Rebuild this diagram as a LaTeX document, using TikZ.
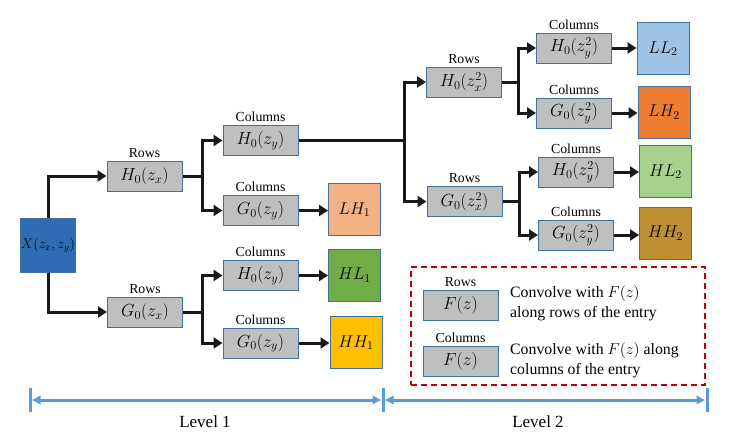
\RequirePackage{fix-cm}
\documentclass[tikz,border=0pt]{standalone}
\usepackage{fontspec}
\setmainfont{Liberation Serif}
\usetikzlibrary{arrows.meta}
\definecolor{boxgray}{HTML}{BFBFBF}
\definecolor{boxline}{HTML}{41719C}
\definecolor{xblue}{HTML}{2E6DB4}
\definecolor{lhone}{HTML}{F4B183}
\definecolor{hlone}{HTML}{70AD47}
\definecolor{hhone}{HTML}{FFC000}
\definecolor{lltwo}{HTML}{9DC3E6}
\definecolor{lhtwo}{HTML}{ED7D31}
\definecolor{hltwo}{HTML}{A9D18E}
\definecolor{hhtwo}{HTML}{BF9030}
\definecolor{legred}{HTML}{C00000}
\definecolor{levblue}{HTML}{5B9BD5}
\tikzset{
  gbox/.style={draw=boxline, fill=boxgray, line width=1pt, minimum width=75pt, minimum height=30pt, inner sep=0pt, font=\fontsize{17.5}{19}\selectfont},
  obox/.style={draw=boxline, line width=1pt, minimum width=52pt, minimum height=52pt, inner sep=0pt, font=\fontsize{17}{19}\selectfont},
  lab/.style={font=\fontsize{13.8}{15}\selectfont, inner sep=0pt, label distance=3pt},
  conn/.style={line width=3pt, black!90},
  arr/.style={conn, -{Triangle[length=9pt,width=11pt]}},
}
\begin{document}
\begin{tikzpicture}[x=1pt,y=-1pt]
\useasboundingbox (0,0) rectangle (731,445);
% input
\node[obox, fill=xblue, minimum width=54pt, minimum height=54pt, font=\fontsize{14}{15}\selectfont] (X) at (48,245) {$X(z_x,z_y)$};
% level 1 rows
\node[gbox, label={[lab]above:Rows}] (h1) at (144.5,176) {$H_0(z_x)$};
\node[gbox, label={[lab]above:Rows}] (g1) at (145,312) {$G_0(z_x)$};
% level 1 columns
\node[gbox, label={[lab]above:Columns}] (c1) at (260.5,140.5) {$H_0(z_y)$};
\node[gbox, label={[lab]above:Columns}] (c2) at (260.5,210.5) {$G_0(z_y)$};
\node[gbox, label={[lab]above:Columns}] (c3) at (260.5,275.5) {$H_0(z_y)$};
\node[gbox, label={[lab]above:Columns}] (c4) at (260.5,343) {$G_0(z_y)$};
% level 1 outputs
\node[obox, fill=lhone] (LH1) at (354.5,209.5) {$LH_1$};
\node[obox, fill=hlone] (HL1) at (354.5,275) {$HL_1$};
\node[obox, fill=hhone] (HH1) at (356,342.5) {$HH_1$};
% level 2 rows
\node[gbox, label={[lab]above:Rows}] (h2) at (464,82) {$H_0(z_x^2)$};
\node[gbox, label={[lab]above:Rows}] (g2) at (464.5,201.5) {$G_0(z_x^2)$};
% level 2 columns
\node[gbox, label={[lab]above:Columns}] (c5) at (574,48) {$H_0(z_y^2)$};
\node[gbox, label={[lab]above:Columns}] (c6) at (574,113) {$G_0(z_y^2)$};
\node[gbox, label={[lab]above:Columns}] (c7) at (576,172) {$H_0(z_y^2)$};
\node[gbox, label={[lab]above:Columns}] (c8) at (576,235) {$G_0(z_y^2)$};
% level 2 outputs
\node[obox, fill=lltwo] (LL2) at (663,48.5) {$LL_2$};
\node[obox, fill=lhtwo] (LH2) at (664,112) {$LH_2$};
\node[obox, fill=hltwo] (HL2) at (665.5,171.5) {$HL_2$};
\node[obox, fill=hhtwo] (HH2) at (665.5,233) {$HH_2$};
% junctions
\coordinate (j1) at (202,176);
\coordinate (j2) at (202,312);
\coordinate (j3) at (404,140.5);
\coordinate (j4) at (518,82);
\coordinate (j5) at (519,201.5);
% connectors
\draw[arr] (X.north) |- (h1.west);
\draw[arr] (X.south) |- (g1.west);
\draw[conn] (h1.east) -- (j1);
\draw[arr] (j1) |- (c1.west);
\draw[arr] (j1) |- (c2.west);
\draw[conn] (g1.east) -- (j2);
\draw[arr] (j2) |- (c3.west);
\draw[arr] (j2) |- (c4.west);
\draw[arr] (c2.east) -- (LH1.west |- c2.east);
\draw[arr] (c3.east) -- (HL1.west |- c3.east);
\draw[arr] (c4.east) -- (HH1.west |- c4.east);
\draw[conn] (c1.east) -- (j3);
\draw[arr] (j3) |- (h2.west);
\draw[arr] (j3) |- (g2.west);
\draw[conn] (h2.east) -- (j4);
\draw[arr] (j4) |- (c5.west);
\draw[arr] (j4) |- (c6.west);
\draw[conn] (g2.east) -- (j5);
\draw[arr] (j5) |- (c7.west);
\draw[arr] (j5) |- (c8.west);
\draw[arr] (c5.east) -- (LL2.west |- c5.east);
\draw[arr] (c6.east) -- (LH2.west |- c6.east);
\draw[arr] (c7.east) -- (HL2.west |- c7.east);
\draw[arr] (c8.east) -- (HH2.west |- c8.east);
% legend
\node[draw=legred, dashed, dash pattern=on 6pt off 4pt, line width=1.4pt, minimum width=294pt, minimum height=118pt] (leg) at (558,326) {};
\node[gbox, label={[lab]above:Rows}] (lr) at (460.5,305) {$F(z)$};
\node[gbox, label={[lab]above:Columns}] (lc) at (460.5,361.5) {$F(z)$};
\node[anchor=west, align=left, font=\fontsize{15.8}{20}\selectfont, inner sep=0pt] (tr) at (510,303.5) {Convolve with $F(z)$\\along rows of the entry};
\node[anchor=west, align=left, font=\fontsize{15.8}{20}\selectfont, inner sep=0pt] (tc) at (510,360) {Convolve with $F(z)$ along\\columns of the entry};
% levels
\coordinate (L0) at (30,400);
\coordinate (L1) at (383,400);
\coordinate (L2) at (707,400);
\draw[levblue, line width=3pt] (30,388) -- (30,412);
\draw[levblue, line width=3pt] (383,388) -- (383,412);
\draw[levblue, line width=3pt] (707,388) -- (707,412);
\draw[levblue, line width=3pt, {Latex[length=9pt,width=10pt]}-{Latex[length=9pt,width=10pt]}] ([xshift=1.5pt]L0) -- ([xshift=-1.5pt]L1);
\draw[levblue, line width=3pt, {Latex[length=9pt,width=10pt]}-{Latex[length=9pt,width=10pt]}] ([xshift=1.5pt]L1) -- ([xshift=-1.5pt]L2);
\node[font=\fontsize{17}{19}\selectfont] (lv1) at (205,422) {Level 1};
\node[font=\fontsize{17}{19}\selectfont] (lv2) at (538,422) {Level 2};
\end{tikzpicture}
\end{document}
